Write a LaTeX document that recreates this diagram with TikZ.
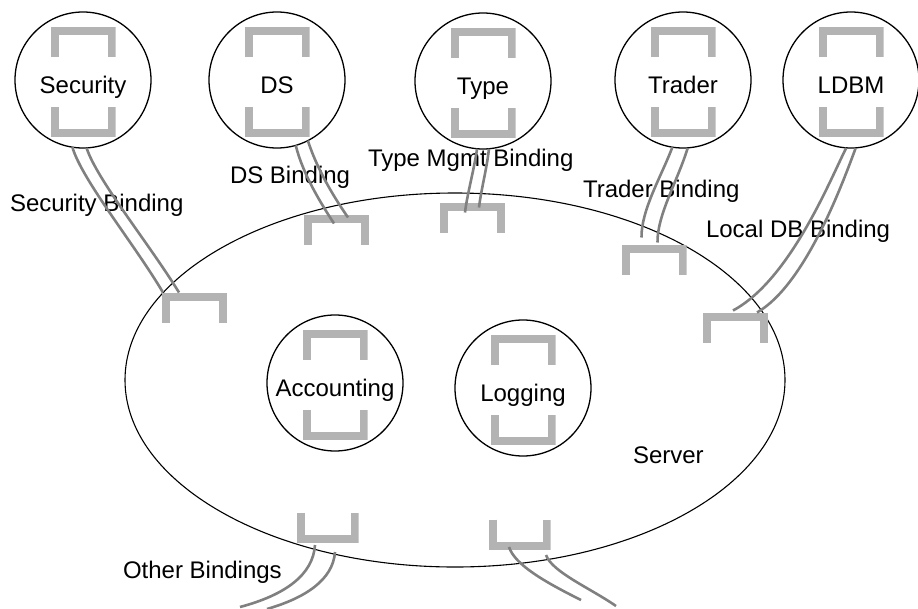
\documentclass[tikz,border=0pt]{standalone}
\usepackage{fontspec}
\setmainfont{Liberation Sans}
\usetikzlibrary{shapes.geometric,calc}
\definecolor{portgray}{HTML}{B3B3B3}
\definecolor{wiregray}{HTML}{808080}
\begin{document}
\begin{tikzpicture}[x=1pt,y=-1pt,
  every node/.style={font=\fontsize{24}{28}\selectfont, inner sep=0pt, outer sep=0pt},
  comp/.style={circle, draw, line width=1.3pt, minimum size=136pt, text height=31pt, text depth=5pt},
  server/.style={ellipse, draw, line width=1.1pt, minimum width=660pt, minimum height=374pt},
  portline/.style={draw=portgray, line width=8pt, line cap=butt, line join=miter},
  portdown/.style={rectangle, minimum width=#1, minimum height=30pt,
    path picture={\draw[portline] ([xshift=4pt]path picture bounding box.south west)
      |- ([shift={(-4pt,-4pt)}]path picture bounding box.north east)
      -- ([xshift=-4pt]path picture bounding box.south east);}},
  portdown/.default=65pt,
  portup/.style={rectangle, minimum width=#1, minimum height=30pt,
    path picture={\draw[portline] ([xshift=4pt]path picture bounding box.north west)
      |- ([shift={(-4pt,4pt)}]path picture bounding box.south east)
      -- ([xshift=-4pt]path picture bounding box.north east);}},
  portup/.default=65pt,
  wire/.style={draw=wiregray, line width=2.6pt},
  lbl/.style={anchor=base west}
]
\useasboundingbox (0,0) rectangle (918,608);

% server enclosure
\node[server] (server) at (455,380) {};
\node[lbl] (serverlbl) at (633,463) {Server};

% external components
\node[comp] (sec)    at (83,80)  {Security};
\node[comp] (ds)     at (277,80) {DS};
\node[comp] (type)   at (483,81) {Type};
\node[comp] (trader) at (683,80) {Trader};
\node[comp] (ldbm)   at (851,80) {LDBM};

% internal components
\node[comp] (acct) at (335,383) {Accounting};
\node[comp] (logg) at (523,388) {Logging};

% ports inside each component
\foreach \c in {sec,ds,type,trader,ldbm,acct,logg}{
  \node[portdown] (\c T) at ([yshift=38pt]\c.center) {};
  \node[portup]   (\c B) at ([yshift=-42pt]\c.center) {};
}

% ports on the server
\node[portdown] (pSec)    at (194.5,307.5) {};
\node[portdown] (pDS)     at (336.5,229.5) {};
\node[portdown] (pType)   at (472.5,217.5) {};
\node[portdown] (pTrader) at (654,259.5) {};
\node[portdown] (pLDB)    at (735.5,327.5) {};
\node[portup=62pt] (pO1)  at (327.5,527.5) {};
\node[portup=62pt] (pO2)  at (519.5,534.5) {};

% binding labels
\node[lbl] (lsec)    at (10,211)  {Security Binding};
\node[lbl] (lds)     at (230,183) {DS Binding};
\node[lbl] (ltype)   at (368,166) {Type Mgmt Binding};
\node[lbl] (ltrader) at (583,197) {Trader Binding};
\node[lbl] (lldb)    at (706,237) {Local DB Binding};
\node[lbl] (lother)  at (123,578) {Other Bindings};

% loose ends of the other bindings
\coordinate (oa) at (240,607);
\coordinate (ob) at (267,609);
\coordinate (oc) at (581,600);
\coordinate (od) at (616,606);

% bindings (pairs of wires)
\draw[wire] (sec.-99) .. controls (82,180) and (135,245) .. ([xshift=1pt]pSec.north west);
\draw[wire] (sec.-87) .. controls (97,180) and (150,245) .. ([xshift=17pt]pSec.north west);

\draw[wire] (ds.-74) .. controls (303,175) and (322,205) .. ([shift={(30pt,-9pt)}]pDS.north west);
\draw[wire] (ds.-63) .. controls (318,172) and (336,200) .. ([shift={(44pt,-3pt)}]pDS.north west);

\draw[wire] (type.-95) .. controls (474,170) and (467,195) .. ([shift={(25pt,-10pt)}]pType.north west);
\draw[wire] (type.-85) .. controls (487,168) and (481,190) .. ([shift={(39pt,-5pt)}]pType.north west);

\draw[wire] (trader.-99) .. controls (662,175) and (641,210) .. ([shift={(20pt,7pt)}]pTrader.north west);
\draw[wire] (trader.-86) .. controls (678,180) and (657,215) .. ([shift={(36pt,2pt)}]pTrader.north west);

\draw[wire] (ldbm.-94) .. controls (830,180) and (790,280) .. ([shift={(30pt,2pt)}]pLDB.north west);
\draw[wire] (ldbm.-86) .. controls (842,185) and (805,285) .. ([shift={(54pt,0pt)}]pLDB.north west);

\draw[wire] ([shift={(18.5pt,-2.5pt)}]pO1.south west) .. controls (313,575) and (285,595) .. (oa);
\draw[wire] ([shift={(38.5pt,-9.5pt)}]pO1.south west) .. controls (333,580) and (305,598) .. (ob);

\draw[wire] ([shift={(20.5pt,2.5pt)}]pO2.south west) .. controls (515,565) and (545,582) .. (oc);
\draw[wire] ([shift={(57.5pt,-5.5pt)}]pO2.south west) .. controls (552,572) and (590,588) .. (od);
\end{tikzpicture}
\end{document}
